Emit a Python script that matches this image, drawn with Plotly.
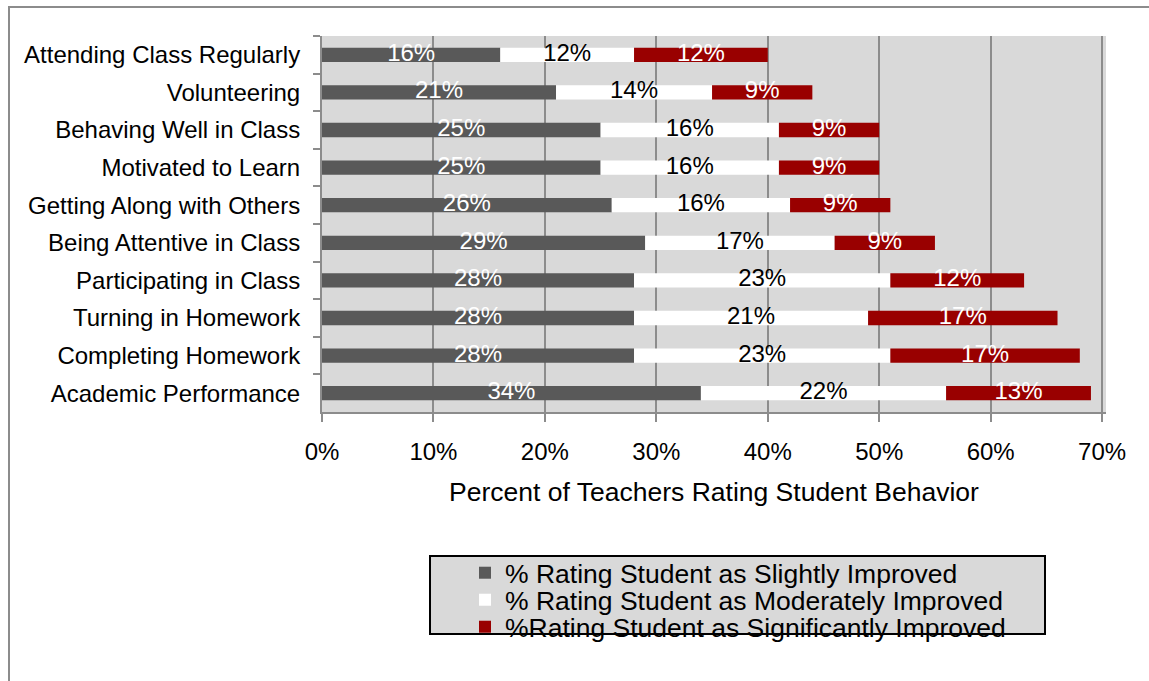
import plotly.graph_objects as go

# Student behaviours rated by teachers (top to bottom)
categories = [
    "Attending Class Regularly",
    "Volunteering",
    "Behaving Well in Class",
    "Motivated to Learn",
    "Getting Along with Others",
    "Being Attentive in Class",
    "Participating in Class",
    "Turning in Homework",
    "Completing Homework",
    "Academic Performance",
]

slightly = [16, 21, 25, 25, 26, 29, 28, 28, 28, 34]
moderately = [12, 14, 16, 16, 16, 17, 23, 21, 23, 22]
significantly = [12, 9, 9, 9, 9, 9, 12, 17, 17, 13]

series_names = [
    "% Rating Student as Slightly Improved",
    "% Rating Student as Moderately Improved",
    "%Rating Student as Significantly Improved",
]
series_values = [slightly, moderately, significantly]
series_colors = ["#595959", "#ffffff", "#990000"]
label_colors = ["#ffffff", "#000000", "#ffffff"]
legend_ids = ["legend", "legend2", "legend3"]
legend_rows_px = [573, 600, 627]   # vertical centre of each legend row

x_ticks = [0, 10, 20, 30, 40, 50, 60, 70]

FONT = "Liberation Sans, Arial, sans-serif"
W, H = 1149, 681

fig = go.Figure()

base = [0] * len(categories)
for name, vals, col, lcol, lid in zip(series_names, series_values, series_colors,
                                      label_colors, legend_ids):
    fig.add_trace(go.Bar(
        y=categories, x=vals, base=base, orientation="h", name=name,
        marker=dict(color=col, line=dict(width=0)),
        width=0.38, legend=lid,
    ))
    mids = [b + v / 2 for b, v in zip(base, vals)]
    fig.add_trace(go.Scatter(
        y=categories, x=mids, mode="text",
        text=[f"{v}%" for v in vals],
        textposition="middle center",
        textfont=dict(family=FONT, size=24, color=lcol),
        showlegend=False, hoverinfo="skip",
    ))
    base = [b + v for b, v in zip(base, vals)]

legend_style = dict(
    xref="container", yref="container",
    x=465 / W, xanchor="left", yanchor="middle",
    bgcolor="rgba(0,0,0,0)", borderwidth=0,
    font=dict(family=FONT, size=26.5, color="#000000"),
    itemwidth=30,
)

fig.update_layout(
    width=W, height=H,
    margin=dict(l=322, r=43, t=36, b=269, autoexpand=False),
    paper_bgcolor="#ffffff",
    plot_bgcolor="#d9d9d9",
    barmode="overlay",
    font=dict(family=FONT, size=24, color="#000000"),
    showlegend=True,
    legend=dict(legend_style, y=1 - legend_rows_px[0] / H),
    legend2=dict(legend_style, y=1 - legend_rows_px[1] / H),
    legend3=dict(legend_style, y=1 - legend_rows_px[2] / H),
    shapes=[
        # legend frame
        dict(type="rect", xref="paper", yref="paper",
             x0=(430 - 322) / 784, x1=(1045 - 322) / 784,
             y0=-(634 - 412) / 376, y1=-(556 - 412) / 376,
             fillcolor="#d9d9d9", line=dict(color="#000000", width=2),
             layer="below"),
        # outer chart frame
        dict(type="rect", xref="paper", yref="paper",
             x0=-(322 - 9) / 784, x1=(1160 - 322) / 784,
             y0=-(700 - 412) / 376, y1=(412 - 7) / 376,
             fillcolor="rgba(0,0,0,0)", line=dict(color="#8c8c8c", width=2),
             layer="below"),
    ],
)

fig.update_xaxes(
    range=[0, 70.35],
    tickvals=x_ticks,
    ticktext=[f"{t}%" for t in x_ticks],
    tickangle=0,
    automargin=False,
    showgrid=True, gridcolor="#8c8c8c", gridwidth=2,
    zeroline=False,
    showline=True, linecolor="#8c8c8c", linewidth=2,
    ticks="outside", ticklen=8, tickwidth=2, tickcolor="#8c8c8c",
    ticklabelstandoff=9,
    tickfont=dict(family=FONT, size=24, color="#000000"),
    title=dict(text="Percent of Teachers Rating Student Behavior",
               font=dict(family=FONT, size=26.5, color="#000000"),
               standoff=19),
    fixedrange=True,
)

fig.update_yaxes(
    categoryorder="array", categoryarray=categories,
    autorange="reversed",
    automargin=False,
    tickson="boundaries",
    showgrid=False,
    showline=True, linecolor="#8c8c8c", linewidth=2,
    ticks="outside", ticklen=7, tickwidth=2, tickcolor="#8c8c8c",
    ticklabelstandoff=15,
    tickfont=dict(family=FONT, size=24, color="#000000"),
    fixedrange=True,
)

fig.write_html("out.html")
